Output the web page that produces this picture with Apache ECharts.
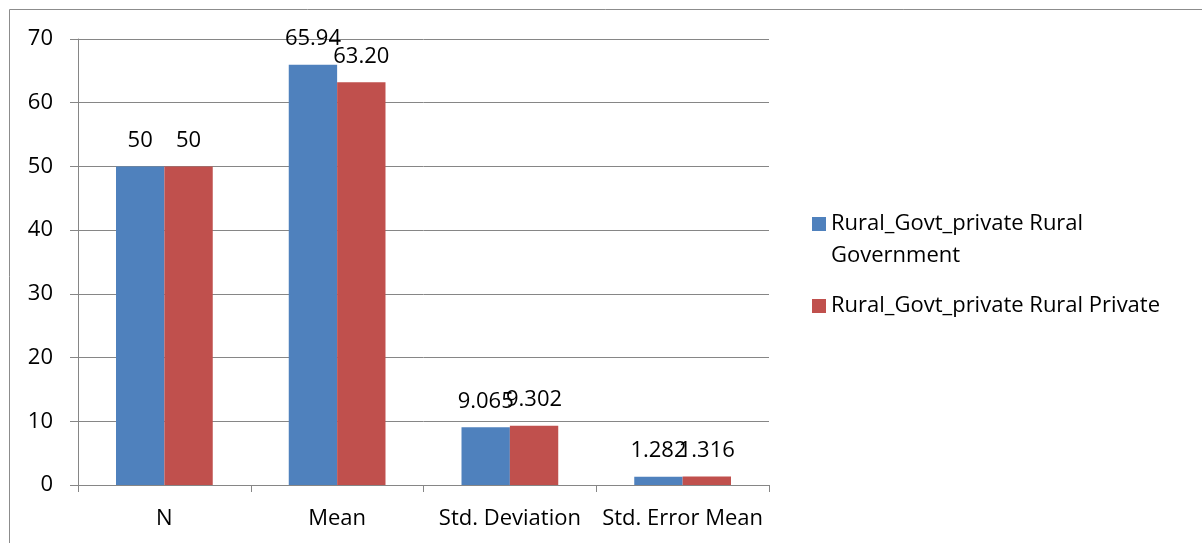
<!DOCTYPE html>
<html>
<head>
<meta charset="utf-8">
<script src="https://cdn.jsdelivr.net/npm/echarts@6/dist/echarts.min.js"></script>
<style>
  html, body { margin: 0; padding: 0; background: #fff; }
  #chart { width: 1202px; height: 543px; }
</style>
</head>
<body>
<div id="chart"></div>
<script>
// Descriptive statistics for the two rural school groups
const categories = ['N', 'Mean', 'Std. Deviation', 'Std. Error Mean'];
const seriesNames = ['Rural_Govt_private Rural Government', 'Rural_Govt_private Rural Private'];
const governmentValues = [50, 65.94, 9.065, 1.282];
const privateValues = [50, 63.20, 9.302, 1.316];
// decimals shown on the value labels, per category
const labelDecimals = [0, 2, 3, 3];
const yTicks = { min: 0, max: 70, interval: 10 };

const FONT = '"Open Sans", Lato, sans-serif';
const FONT_SIZE = 22;
const GRID_GRAY = '#868686';

// Legend swatches: a 14px square inside a 14x46 box, top-aligned for the
// two-line entry and centred for the one-line entry.
const ICON_TOP = 'path://M0 0H14V14H0Z M0 46L0 46';
const ICON_MID = 'path://M0 0L0 0 M0 16H14V30H0Z M0 46L0 46';

const chart = echarts.init(document.getElementById('chart'), null, { renderer: 'canvas' });

function barLabel() {
  return {
    show: true,
    position: 'top',
    distance: 15,
    color: '#000',
    fontSize: FONT_SIZE,
    fontFamily: FONT,
    formatter: p => p.value.toFixed(labelDecimals[p.dataIndex])
  };
}

chart.setOption({
  animation: false,
  backgroundColor: '#fff',
  textStyle: { fontFamily: FONT },
  graphic: [
    {
      type: 'polyline',
      shape: { points: [[9.5, 543], [9.5, 9.5], [1202, 9.5]] },
      style: { stroke: '#8c8c8c', lineWidth: 1, fill: null },
      silent: true
    }
  ],
  grid: { left: 78, right: 433, top: 39, bottom: 58, containLabel: false },
  legend: {
    orient: 'vertical',
    left: 812,
    top: 208,
    padding: 0,
    itemGap: 11,
    itemWidth: 14,
    itemHeight: 46,
    symbolKeepAspect: false,
    selectedMode: false,
    textStyle: {
      fontSize: FONT_SIZE,
      fontFamily: FONT,
      color: '#000',
      lineHeight: 32,
      width: 350,
      overflow: 'break'
    },
    data: [
      { name: seriesNames[0], icon: ICON_TOP },
      { name: seriesNames[1], icon: ICON_MID }
    ]
  },
  xAxis: {
    type: 'category',
    data: categories,
    axisLine: { show: true, lineStyle: { color: GRID_GRAY, width: 1 } },
    axisTick: { show: true, alignWithLabel: false, length: 7, lineStyle: { color: GRID_GRAY } },
    axisLabel: { color: '#000', fontSize: FONT_SIZE, fontFamily: FONT, margin: 23, interval: 0 },
    splitLine: { show: false }
  },
  yAxis: {
    type: 'value',
    min: yTicks.min,
    max: yTicks.max,
    interval: yTicks.interval,
    axisLine: { show: true, lineStyle: { color: GRID_GRAY, width: 1 } },
    axisTick: { show: true, length: 8, lineStyle: { color: GRID_GRAY } },
    axisLabel: { color: '#000', fontSize: FONT_SIZE, fontFamily: FONT, margin: 25 },
    splitLine: { show: true, lineStyle: { color: GRID_GRAY, width: 1 } }
  },
  series: [
    {
      name: seriesNames[0],
      type: 'bar',
      data: governmentValues,
      barGap: '0%',
      barCategoryGap: '44%',
      itemStyle: { color: '#4F81BD' },
      label: barLabel()
    },
    {
      name: seriesNames[1],
      type: 'bar',
      data: privateValues,
      barGap: '0%',
      barCategoryGap: '44%',
      itemStyle: { color: '#C0504D' },
      label: barLabel()
    }
  ]
});
</script>
</body>
</html>
